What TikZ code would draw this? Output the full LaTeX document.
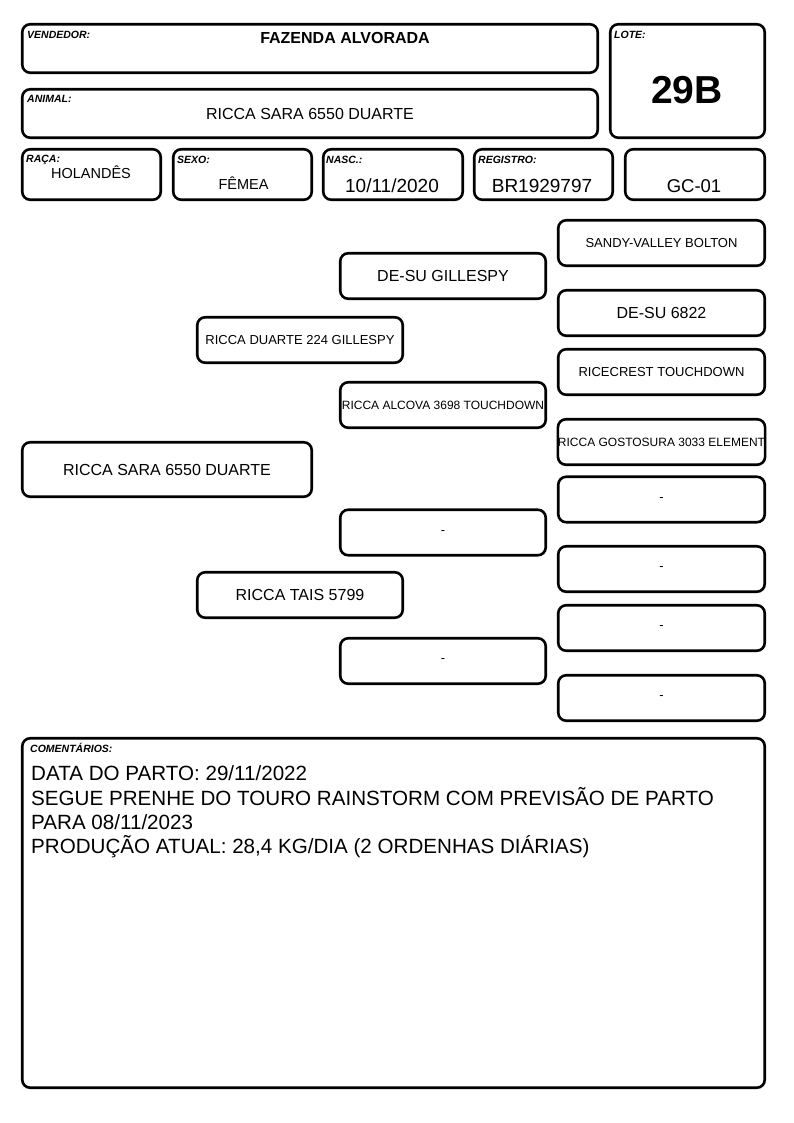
\documentclass[tikz,border=0pt]{standalone}
\usepackage{fontspec}
\setmainfont{Liberation Sans}
\usetikzlibrary{positioning}

\tikzset{
    campo/.style={draw, line width=2.6pt, rounded corners=8pt, inner sep=0pt},
    rotulo/.style={anchor=base west, inner sep=0pt, font=\fontsize{10.5}{12}\selectfont\bfseries\itshape},
    valor/.style={anchor=base, inner sep=0pt},
    ped/.style={campo, minimum width=205.5pt, minimum height=45.5pt}
}

\begin{document}
\begin{tikzpicture}[x=1pt, y=-1pt]
    \useasboundingbox (0,0) rectangle (794,1123);

    % Header boxes
    \node[campo, minimum width=575.5pt, minimum height=48.5pt] (vend) at (310,48.5) {};
    \node[campo, minimum width=154.5pt, minimum height=113.5pt] (lote) at (687.5,81) {};
    \node[campo, minimum width=575.5pt, minimum height=48.5pt] (animal) at (310,113.5) {};
    \node[campo, minimum width=138.5pt, minimum height=50.5pt] (raca) at (91.5,174.5) {};
    \node[campo, minimum width=138.5pt, minimum height=50.5pt] (sexo) at (242.5,174.5) {};
    \node[campo, minimum width=139.5pt, minimum height=50.5pt] (nasc) at (393,174.5) {};
    \node[campo, minimum width=138.5pt, minimum height=50.5pt] (reg) at (543.5,174.5) {};
    \node[campo, minimum width=139.5pt, minimum height=50.5pt] (gc) at (695,174.5) {};

    % Header labels
    \node[rotulo] (lvend) at (27,39) {VENDEDOR:};
    \node[rotulo] (llote) at (614,39) {LOTE:};
    \node[rotulo] (lanimal) at (27,103) {ANIMAL:};
    \node[rotulo] (lraca) at (26,163) {RAÇA:};
    \node[rotulo] (lsexo) at (177,164) {SEXO:};
    \node[rotulo] (lnasc) at (326,164) {NASC.:};
    \node[rotulo] (lreg) at (478,164) {REGISTRO:};

    % Header values
    \node[valor, font=\fontsize{16}{19}\selectfont\bfseries] (tvend) at (345,43.5) {FAZENDA ALVORADA};
    \node[valor, font=\fontsize{39}{44}\selectfont\bfseries] (tlote) at (687,104) {29B};
    \node[valor, font=\fontsize{16}{19}\selectfont] (tanimal) at (310,120) {RICCA SARA 6550 DUARTE};
    \node[valor, font=\fontsize{14.5}{17}\selectfont] (traca) at (91,178.5) {HOLANDÊS};
    \node[valor, font=\fontsize{14.5}{17}\selectfont] (tsexo) at (243.5,189.5) {FÊMEA};
    \node[valor, font=\fontsize{19}{22}\selectfont] (tnasc) at (392,193) {10/11/2020};
    \node[valor, font=\fontsize{19}{22}\selectfont] (treg) at (542,193) {BR1929797};
    \node[valor, font=\fontsize{18.5}{22}\selectfont] (tgc) at (694,193) {GC-01};

    % Pedigree
    \node[campo, minimum width=289.5pt, minimum height=54.5pt, font=\fontsize{16}{19}\selectfont] (filho) at (167,469.5) {RICCA SARA 6550 DUARTE};
    \node[ped, font=\fontsize{13}{15}\selectfont] (pai) at (300,340) {RICCA DUARTE 224 GILLESPY};
    \node[ped, font=\fontsize{16}{19}\selectfont] (mae) at (300,595) {RICCA TAIS 5799};
    \node[ped, font=\fontsize{16}{19}\selectfont] (avop) at (443,276) {DE-SU GILLESPY};
    \node[ped, font=\fontsize{12}{14}\selectfont] (avap) at (443,405) {RICCA ALCOVA 3698 TOUCHDOWN};
    \node[ped, font=\fontsize{13}{14}\selectfont] (avom) at (443,532.5) {-};
    \node[ped, font=\fontsize{13}{14}\selectfont] (avam) at (443,661) {-};
    \node[ped, minimum width=206.5pt, font=\fontsize{13}{15}\selectfont] (bis1) at (661.5,243) {SANDY-VALLEY BOLTON};
    \node[ped, minimum width=206.5pt, font=\fontsize{16}{19}\selectfont] (bis2) at (661.5,313) {DE-SU 6822};
    \node[ped, minimum width=206.5pt, font=\fontsize{13}{15}\selectfont] (bis3) at (661.5,372) {RICECREST TOUCHDOWN};
    \node[ped, minimum width=206.5pt, font=\fontsize{12}{14}\selectfont] (bis4) at (661.5,442) {RICCA GOSTOSURA 3033 ELEMENT};
    \node[ped, minimum width=206.5pt, font=\fontsize{13}{14}\selectfont] (bis5) at (661.5,499.5) {-};
    \node[ped, minimum width=206.5pt, font=\fontsize{13}{14}\selectfont] (bis6) at (661.5,569) {-};
    \node[ped, minimum width=206.5pt, font=\fontsize{13}{14}\selectfont] (bis7) at (661.5,628) {-};
    \node[ped, minimum width=206.5pt, font=\fontsize{13}{14}\selectfont] (bis8) at (661.5,698) {-};

    % Comments
    \node[campo, minimum width=742.5pt, minimum height=349.5pt] (coment) at (393.5,913) {};
    \node[rotulo] (lcoment) at (30,752) {COMENTÁRIOS:};
    \node[anchor=north west, inner sep=0pt, align=left, font=\fontsize{20.6}{24.4}\selectfont] (tcoment) at (31,765.5)
        {DATA DO PARTO: 29/11/2022\\SEGUE PRENHE DO TOURO RAINSTORM COM PREVISÃO DE PARTO\\PARA 08/11/2023\\PRODUÇÃO ATUAL: 28,4 KG/DIA (2 ORDENHAS DIÁRIAS)};

\end{tikzpicture}
\end{document}
